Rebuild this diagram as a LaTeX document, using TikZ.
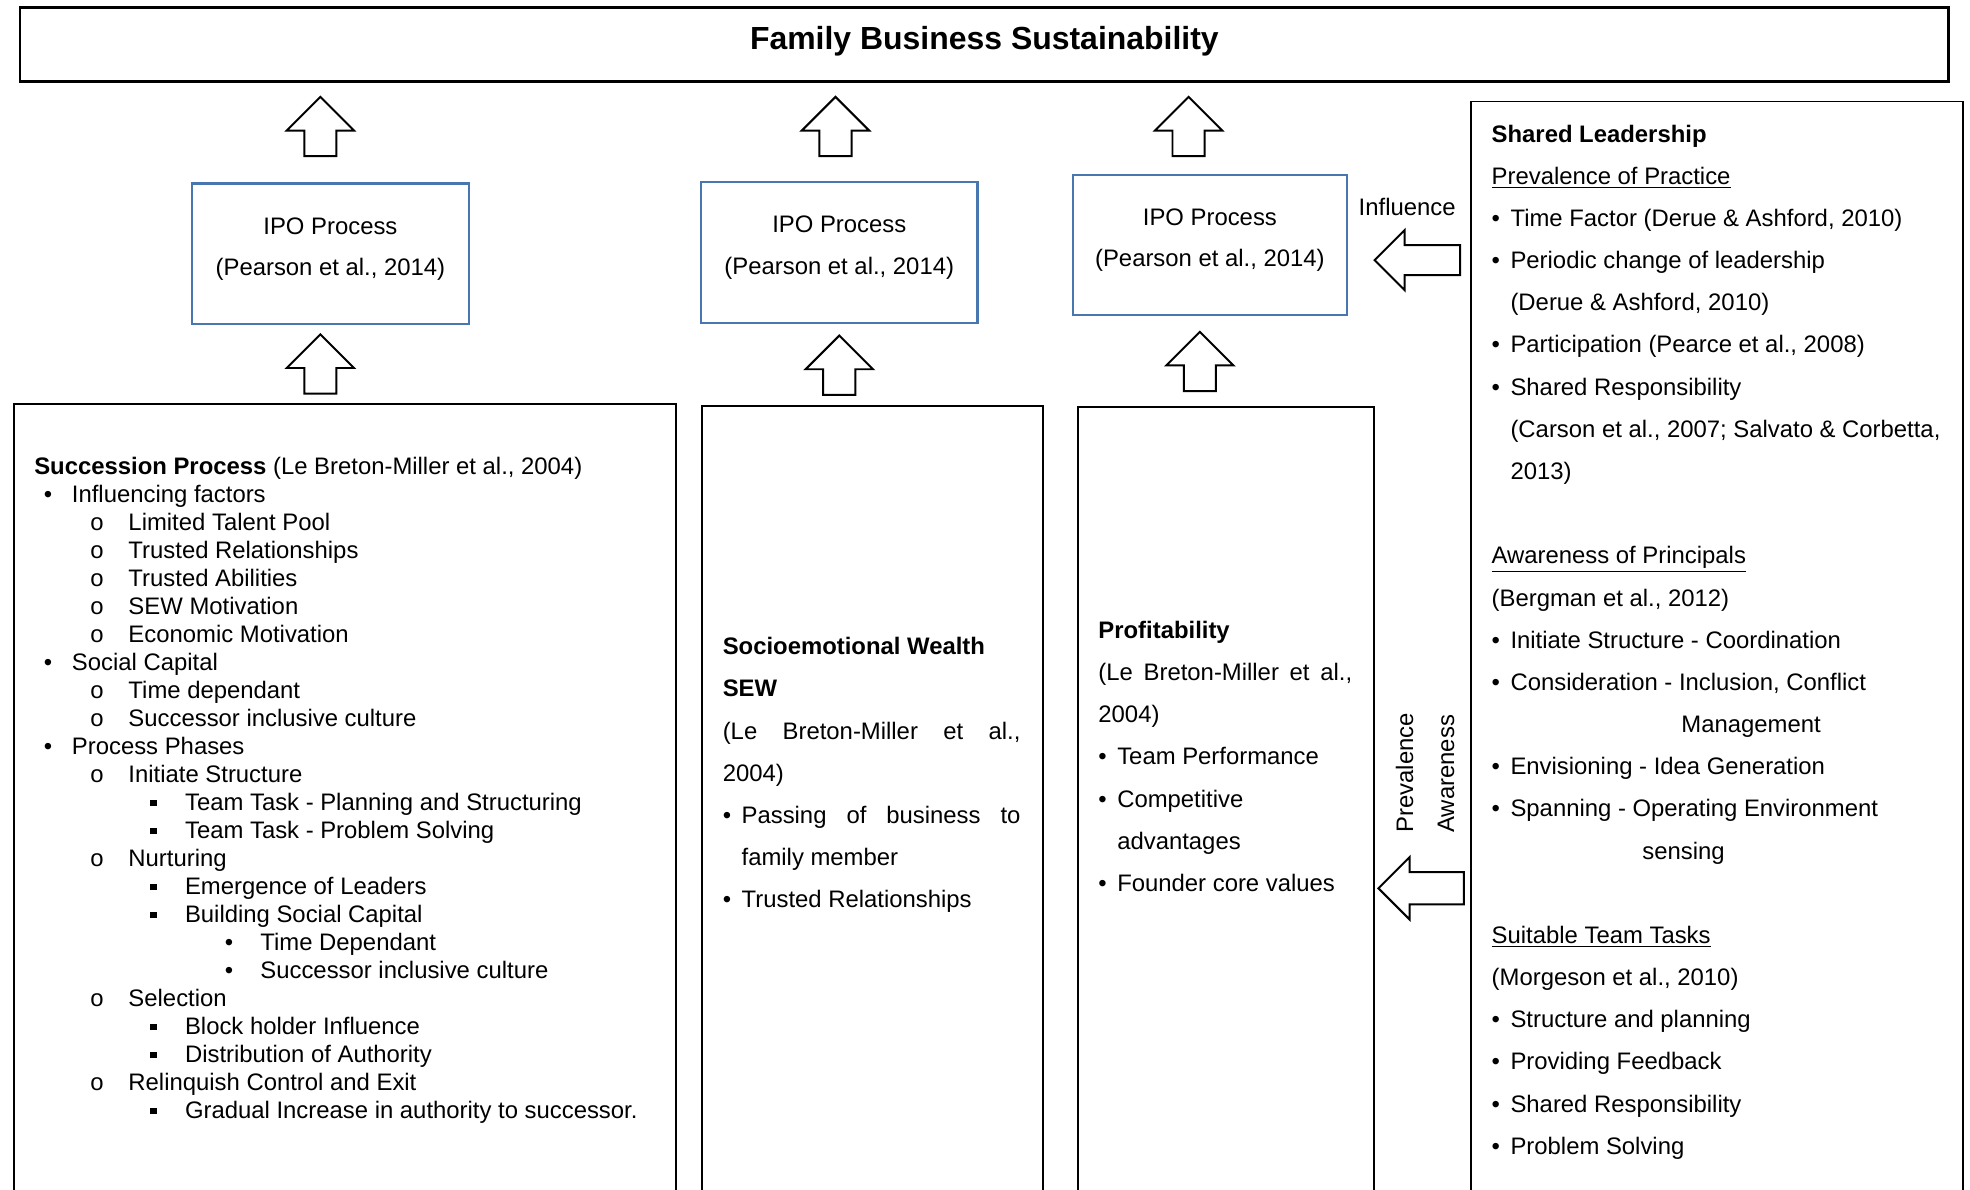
\documentclass[tikz,border=0pt]{standalone}
\usepackage{fontspec}
\setmainfont{Liberation Sans}
\usetikzlibrary{shapes.arrows, positioning}

\definecolor{ipoblue}{RGB}{72,118,174}

% list lines: label centre, text start, label, text
\newcommand{\sitem}[4]{\hspace*{#1}\makebox[0pt]{#3}\hspace*{\dimexpr #2-#1\relax}#4}
\newcommand{\lone}[1]{\sitem{7.7pt}{21pt}{\textbullet}{#1}}
\newcommand{\ltwo}[1]{\sitem{35pt}{52.5pt}{o}{#1}}
\newcommand{\lthree}[1]{\sitem{66.5pt}{84pt}{\raisebox{2.6pt}{\rule{3.6pt}{3.6pt}}}{#1}}
\newcommand{\lfour}[1]{\sitem{108.5pt}{126pt}{\textbullet}{#1}}
\newcommand{\bul}{\makebox[10.5pt][l]{\textbullet}}

\begin{document}
\begin{tikzpicture}[x=0.7pt, y=-0.7pt, font=\fontsize{13.3}{23.5}\selectfont]
    \tikzset{frame/.style={rectangle, draw=black, line width=1.1pt, inner sep=0pt, anchor=north west}}
    \tikzset{ipo/.style={rectangle, draw=ipoblue, line width=1.2pt, minimum width=154pt, minimum height=78.4pt, align=center, font=\fontsize{13.3}{23.1}\selectfont, text depth=8pt}}
    \tikzset{body/.style={inner sep=0pt, align=left}}
    \tikzset{lbl/.style={inner sep=0pt}}
    \tikzset{fatup/.style={single arrow, draw, line width=1.1pt, inner xsep=0pt, inner ysep=8.4pt, rotate=90, anchor=tip, minimum height=33pt, single arrow head extend=9.8pt}}
    \tikzset{fatleft/.style={single arrow, draw, line width=1.1pt, inner xsep=0pt, inner ysep=7.8pt, rotate=180, anchor=tip, minimum height=47.6pt, single arrow head extend=8.4pt}}
    \useasboundingbox (0,0) rectangle (1568,947);
    \clip (0,0) rectangle (1568,947);

    % top box
    \node[frame, anchor=center, line width=1.5pt, minimum width=1074.5pt, minimum height=41.3pt,
          font=\fontsize{17.8}{20}\selectfont\bfseries, text depth=7pt] (title) at (783.5,35.5) {Family Business Sustainability};

    % IPO boxes
    \node[ipo] (ipo1) at (263,202) {IPO Process\\(Pearson et al., 2014)};
    \node[ipo] (ipo2) at (668,201) {IPO Process\\(Pearson et al., 2014)};
    \node[ipo, minimum width=152.6pt] (ipo3) at (963,195) {IPO Process\\(Pearson et al., 2014)};

    % lower boxes (run off the bottom)
    \node[frame, minimum width=368.9pt, minimum height=454pt] (succ) at (10,321) {};
    \node[frame, minimum width=189.7pt, minimum height=454pt] (sew) at (558,322) {};
    \node[frame, minimum width=165.2pt, minimum height=454pt] (prof) at (857,323) {};
    \node[frame, minimum width=274.4pt, minimum height=623pt] (shared) at (1170,80) {};

    % block arrows, placed by their tips
    \node[fatup] (up1) at (255,76) {};
    \node[fatup] (up2) at (665,76) {};
    \node[fatup] (up3) at (946,76) {};
    \node[fatup] (in1) at (255,265) {};
    \node[fatup] (in2) at (668,266) {};
    \node[fatup] (in3) at (955,263) {};
    \node[fatleft] (infl) at (1093,207) {};
    \node[fatleft, inner ysep=8.4pt] (aware) at (1096,707) {};

    \node[lbl] (infltext) at (1120,165) {Influence};
    \node[lbl, rotate=90, anchor=west] (prevtext) at (1118,663) {Prevalence};
    \node[lbl, rotate=90, anchor=west] (awaretext) at (1151,663) {Awareness};

    % box texts
    \node[body, font=\fontsize{13.3}{15.6}\selectfont, below right=30.1pt and 11.9pt of succ.north west] (succtext) {%
        \textbf{Succession Process} (Le Breton-Miller et al., 2004)\\
        \lone{Influencing factors}\\
        \ltwo{Limited Talent Pool}\\
        \ltwo{Trusted Relationships}\\
        \ltwo{Trusted Abilities}\\
        \ltwo{SEW Motivation}\\
        \ltwo{Economic Motivation}\\
        \lone{Social Capital}\\
        \ltwo{Time dependant}\\
        \ltwo{Successor inclusive culture}\\
        \lone{Process Phases}\\
        \ltwo{Initiate Structure}\\
        \lthree{Team Task - Planning and Structuring}\\
        \lthree{Team Task - Problem Solving}\\
        \ltwo{Nurturing}\\
        \lthree{Emergence of Leaders}\\
        \lthree{Building Social Capital}\\
        \lfour{Time Dependant}\\
        \lfour{Successor inclusive culture}\\
        \ltwo{Selection}\\
        \lthree{Block holder Influence}\\
        \lthree{Distribution of Authority}\\
        \ltwo{Relinquish Control and Exit}\\
        \lthree{Gradual Increase in authority to successor.}};

    \node[body, below right=129.5pt and 11.9pt of sew.north west] (sewtext) {%
        \textbf{Socioemotional Wealth}\\
        \textbf{SEW}\\
        \makebox[165.9pt][s]{(Le Breton-Miller et al.,}\\
        2004)\\
        \bul\makebox[155.4pt][s]{Passing of business to}\\
        \hspace*{10.5pt}family member\\
        \bul Trusted Relationships};

    \node[body, below right=119.7pt and 11.9pt of prof.north west] (proftext) {%
        \textbf{Profitability}\\
        \makebox[141.4pt][s]{(Le Breton-Miller et al.,}\\
        2004)\\
        \bul Team Performance\\
        \bul Competitive\\
        \hspace*{10.5pt}advantages\\
        \bul Founder core values};

    \node[body, below right=13.3pt and 11.9pt of shared.north west] (sharedtext) {%
        \textbf{Shared Leadership}\\
        \underline{Prevalence of Practice}\\
        \bul Time Factor (Derue \& Ashford, 2010)\\
        \bul Periodic change of leadership\\
        \hspace*{10.5pt}(Derue \& Ashford, 2010)\\
        \bul Participation (Pearce et al., 2008)\\
        \bul Shared Responsibility\\
        \hspace*{10.5pt}(Carson et al., 2007; Salvato \& Corbetta,\\
        \hspace*{10.5pt}2013)\\
        \mbox{}\\
        \underline{Awareness of Principals}\\
        (Bergman et al., 2012)\\
        \bul Initiate Structure - Coordination\\
        \bul Consideration - Inclusion, Conflict\\
        \hspace*{105.7pt}Management\\
        \bul Envisioning - Idea Generation\\
        \bul Spanning - Operating Environment\\
        \hspace*{84pt}sensing\\
        \mbox{}\\
        \underline{Suitable Team Tasks}\\
        (Morgeson et al., 2010)\\
        \bul Structure and planning\\
        \bul Providing Feedback\\
        \bul Shared Responsibility\\
        \bul Problem Solving};
\end{tikzpicture}
\end{document}
